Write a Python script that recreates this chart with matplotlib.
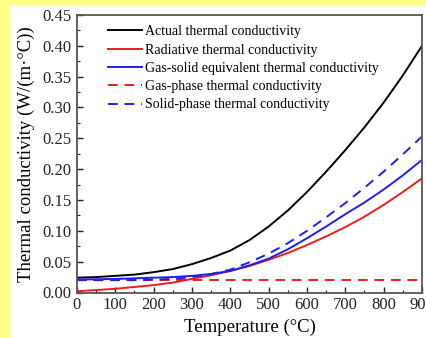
import matplotlib
matplotlib.use("Agg")
import matplotlib.pyplot as plt
from matplotlib.patches import Rectangle
from matplotlib.ticker import MultipleLocator

# temperature grid (deg C) and values
temps = [0, 50, 100, 150, 200, 250, 300, 350, 400, 450,
         500, 550, 600, 650, 700, 750, 800, 850, 900]
actual = [0.024, 0.025, 0.027, 0.029, 0.033, 0.038, 0.046, 0.056, 0.068, 0.085,
          0.107, 0.133, 0.163, 0.196, 0.231, 0.268, 0.308, 0.352, 0.400]
radiative = [0.002, 0.004, 0.006, 0.009, 0.012, 0.016, 0.022, 0.028, 0.035, 0.043,
             0.053, 0.064, 0.077, 0.091, 0.106, 0.123, 0.142, 0.163, 0.185]
gas_solid = [0.021, 0.0215, 0.022, 0.023, 0.024, 0.025, 0.027, 0.030, 0.035, 0.044,
             0.055, 0.070, 0.088, 0.107, 0.127, 0.146, 0.167, 0.190, 0.215]
gas_phase = [0.021] * len(temps)
solid_phase = [0.020, 0.020, 0.020, 0.020, 0.021, 0.022, 0.025, 0.030, 0.037, 0.049,
               0.063, 0.080, 0.100, 0.122, 0.145, 0.170, 0.196, 0.224, 0.253]

labels = ["Actual thermal conductivity",
          "Radiative thermal conductivity",
          "Gas-solid equivalent thermal conductivity",
          "Gas-phase thermal conductivity",
          "Solid-phase thermal conductivity"]

plt.rcParams['font.family'] = ['Liberation Serif', 'DejaVu Serif']

fig = plt.figure(figsize=(4.27, 3.38), dpi=100)
fig.patch.set_facecolor('#ffff88')
# white panel inside the yellow border
fig.patches.append(Rectangle((10 / 427, 0), 1 - 10 / 427, 1 - 5 / 338,
                             transform=fig.transFigure, facecolor='white',
                             edgecolor='none', zorder=-10))

ax = fig.add_axes([77 / 427, 1 - 292.5 / 338, (422 - 77) / 427, (292.5 - 15) / 338])

lw = 1.4
ax.plot(temps, actual, color='black', lw=lw, label=labels[0])
ax.plot(temps, radiative, color='#ee1c1c', lw=lw, label=labels[1])
ax.plot(temps, gas_solid, color='#1f1fe6', lw=lw, label=labels[2])
ax.plot(temps, gas_phase, color='#ee1c1c', lw=lw, ls=(0, (5, 3.5)), label=labels[3])
ax.plot(temps, solid_phase, color='#1f1fe6', lw=lw, ls=(0, (5, 3.5)), label=labels[4])

ax.set_xlim(0, 900)
ax.set_ylim(0, 0.45)
ax.xaxis.set_major_locator(MultipleLocator(100))
ax.xaxis.set_minor_locator(MultipleLocator(50))
ax.yaxis.set_major_locator(MultipleLocator(0.05))
ax.yaxis.set_minor_locator(MultipleLocator(0.025))
ax.yaxis.set_major_formatter(plt.FormatStrFormatter('%.2f'))
ax.tick_params(which='both', direction='in', top=False, right=False,
               labelsize=12, colors='#222222')
ax.tick_params(which='major', length=4, width=1)
ax.tick_params(axis='x', which='major', pad=3)
ax.tick_params(axis='y', which='major', pad=4)
ax.tick_params(which='minor', length=2, width=0.8)
for sp in ax.spines.values():
    sp.set_color('#555555')
    sp.set_linewidth(1.3)

ax.set_xlabel('Temperature (°C)', fontsize=13.5, labelpad=4)
ax.set_ylabel('Thermal conductivity (W/(m·°C))', fontsize=13.5, labelpad=5)

ax.legend(loc='upper left', frameon=False, fontsize=10, handlelength=2.5,
          handletextpad=0.15, labelspacing=0.38, borderaxespad=0.2,
          bbox_to_anchor=(0.065, 0.993))

fig.savefig('out.png', dpi=100, facecolor=fig.get_facecolor())
